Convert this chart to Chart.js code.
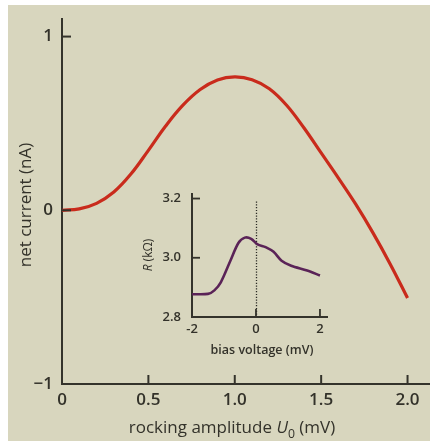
<!DOCTYPE html>
<html>
<head>
<meta charset="utf-8">
<script src="https://cdn.jsdelivr.net/npm/chart.js@4.4.1/dist/chart.umd.min.js"></script>
<style>
  html, body { margin: 0; padding: 0; background: #fff; }
  #wrap { position: relative; width: 430px; height: 441px; overflow: hidden; }
  #paper { position: absolute; left: 8px; top: 5px; right: 0; bottom: 0; background: #d8d6be; }
  #mainChart { position: absolute; left: 0; top: 0; }
  #insetChart { position: absolute; left: 120px; top: 175px; }
</style>
</head>
<body>
<div id="wrap">
  <div id="paper"></div>
  <canvas id="mainChart" width="430" height="441"></canvas>
  <canvas id="insetChart" width="230" height="190"></canvas>
</div>
<script>
// --- DATA ---
const amplitude  = [0, 0.1, 0.2, 0.3, 0.4, 0.5, 0.6, 0.7, 0.8, 0.9, 1.0, 1.1, 1.2, 1.3, 1.4, 1.5, 1.6, 1.7, 1.8, 1.9, 2.0];
const netCurrent = [0, 0.008, 0.04, 0.105, 0.21, 0.345, 0.485, 0.605, 0.695, 0.75, 0.768, 0.752, 0.70, 0.605, 0.475, 0.33, 0.185, 0.035, -0.13, -0.31, -0.505];
const ampTicks = [0, 0.5, 1, 1.5, 2];
const ampTickLabels = ['0', '0.5', '1.0', '1.5', '2.0'];
const currentTicks = [-1, 0, 1];
const currentTickLabels = ['\u22121', '0', '1'];

// inset: resistance vs bias voltage
const biasVoltage = [-2.0, -1.5, -1.3, -1.1, -0.8, -0.55, -0.35, -0.15, 0.05, 0.3, 0.55, 0.8, 1.1, 1.6, 2.0];
const resistance  = [2.877, 2.878, 2.89, 2.917, 2.99, 3.05, 3.068, 3.064, 3.045, 3.036, 3.02, 2.99, 2.973, 2.957, 2.94];
const biasTicks = [-2, 0, 2];
const biasTickLabels = ['-2', '0', '2'];
const resTicks = [2.8, 3.0, 3.2];
const resTickLabels = ['2.8', '3.0', '3.2'];

// --- STYLE ---
const FONT = '"Open Sans", "DejaVu Sans", sans-serif';
const axisColor = '#34332b';
const textColor = '#33322a';

// force the scale to use exactly these tick values
function fixedTicks(values) {
  return scale => { scale.ticks = values.map(v => ({ value: v })); };
}

// short tick marks pointing into the plot area
function drawInsideTicks(chart, xVals, yVals, len, width) {
  const { ctx, chartArea, scales: { x, y } } = chart;
  ctx.save();
  ctx.strokeStyle = axisColor;
  ctx.lineWidth = width;
  xVals.forEach(v => {
    if (v === x.min) return;
    const px = x.getPixelForValue(v);
    ctx.beginPath();
    ctx.moveTo(px, chartArea.bottom);
    ctx.lineTo(px, chartArea.bottom - len);
    ctx.stroke();
  });
  yVals.forEach(v => {
    if (v === y.min) return;
    const py = y.getPixelForValue(v);
    ctx.beginPath();
    ctx.moveTo(chartArea.left, py);
    ctx.lineTo(chartArea.left + len, py);
    ctx.stroke();
  });
  ctx.restore();
}

// text made of pieces (italic letters, subscripts), centred on cx
function drawRichText(ctx, parts, cx, cy, size, weight, rotate) {
  ctx.save();
  ctx.translate(cx, cy);
  if (rotate) ctx.rotate(-Math.PI / 2);
  ctx.fillStyle = textColor;
  ctx.textBaseline = 'alphabetic';
  const fontFor = p => `${p.italic ? 'italic ' : ''}${weight} ${p.sub ? size * 0.72 : size}px ${FONT}`;
  let total = 0;
  parts.forEach(p => { ctx.font = fontFor(p); total += ctx.measureText(p.text).width; });
  let x = -total / 2;
  parts.forEach(p => {
    ctx.font = fontFor(p);
    ctx.fillText(p.text, x, p.sub ? size * 0.3 : 0);
    x += ctx.measureText(p.text).width;
  });
  ctx.restore();
}

const mainDecor = {
  id: 'mainDecor',
  afterDraw(chart) {
    drawInsideTicks(chart, ampTicks, currentTicks, 9, 2);
    const ctx = chart.ctx;
    drawRichText(ctx, [
      { text: 'rocking amplitude ' }, { text: 'U', italic: true }, { text: '0', sub: true }, { text: ' (mV)' }
    ], 232, 433, 17, 500, false);
    drawRichText(ctx, [{ text: 'net current (nA)' }], 31, 205, 17, 500, true);
  }
};

const insetDecor = {
  id: 'insetDecor',
  beforeDatasetsDraw(chart) {
    // dotted line at zero bias
    const { ctx, chartArea, scales: { x, y } } = chart;
    const px = Math.round(x.getPixelForValue(0)) + 0.5;
    ctx.save();
    ctx.strokeStyle = '#2a2a24';
    ctx.lineWidth = 1.3;
    ctx.setLineDash([1.2, 1.6]);
    ctx.beginPath();
    ctx.moveTo(px, y.getPixelForValue(3.19));
    ctx.lineTo(px, chartArea.bottom);
    ctx.stroke();
    ctx.restore();
  },
  afterDraw(chart) {
    drawInsideTicks(chart, biasTicks, resTicks, 8, 1.8);
    const ctx = chart.ctx;
    drawRichText(ctx, [{ text: 'bias voltage (mV)' }], 142, 179, 12.5, 600, false);
    drawRichText(ctx, [{ text: 'R', italic: true }, { text: ' (k\u03A9)' }], 32, 80, 12, 400, true);
  }
};

new Chart(document.getElementById('mainChart'), {
  type: 'line',
  data: {
    datasets: [{
      data: amplitude.map((u, i) => ({ x: u, y: netCurrent[i] })),
      borderColor: '#c92b1c',
      borderWidth: 3.2,
      pointRadius: 0,
      tension: 0.4,
      fill: false
    }]
  },
  options: {
    responsive: false,
    animation: false,
    events: [],
    layout: { padding: { top: 13, right: 0, left: 0, bottom: 0 } },
    plugins: { legend: { display: false }, tooltip: { enabled: false } },
    scales: {
      x: {
        type: 'linear', min: 0, max: 2.13,
        afterBuildTicks: fixedTicks(ampTicks),
        afterFit: s => { s.height = 57; },
        grid: { display: false, drawTicks: false },
        border: { display: true, color: axisColor, width: 2 },
        ticks: {
          padding: 6, color: textColor, maxRotation: 0, autoSkip: false,
          font: { family: FONT, size: 17, weight: '600' },
          callback: (v, i) => ampTickLabels[i]
        }
      },
      y: {
        type: 'linear', min: -1, max: 1.1,
        afterBuildTicks: fixedTicks(currentTicks),
        afterFit: s => { s.width = 62; },
        grid: { display: false, drawTicks: false },
        border: { display: true, color: axisColor, width: 2 },
        ticks: {
          padding: 9, color: textColor, autoSkip: false,
          font: { family: FONT, size: 17, weight: '600' },
          callback: (v, i) => currentTickLabels[i]
        }
      }
    }
  },
  plugins: [mainDecor]
});

new Chart(document.getElementById('insetChart'), {
  type: 'line',
  data: {
    datasets: [{
      data: biasVoltage.map((v, i) => ({ x: v, y: resistance[i] })),
      borderColor: '#5a2357',
      borderWidth: 2.6,
      pointRadius: 0,
      tension: 0.3,
      fill: false
    }]
  },
  options: {
    responsive: false,
    animation: false,
    events: [],
    layout: { padding: { top: 10, right: 23, left: 0, bottom: 0 } },
    plugins: { legend: { display: false }, tooltip: { enabled: false } },
    scales: {
      x: {
        type: 'linear', min: -2, max: 2.22,
        afterBuildTicks: fixedTicks(biasTicks),
        afterFit: s => { s.height = 48; },
        grid: { display: false, drawTicks: false },
        border: { display: true, color: axisColor, width: 2 },
        ticks: {
          padding: 4, color: textColor, maxRotation: 0, autoSkip: false,
          font: { family: FONT, size: 13, weight: '600' },
          callback: (v, i) => biasTickLabels[i]
        }
      },
      y: {
        type: 'linear', min: 2.8, max: 3.216,
        afterBuildTicks: fixedTicks(resTicks),
        afterFit: s => { s.width = 72; },
        grid: { display: false, drawTicks: false },
        border: { display: true, color: axisColor, width: 2 },
        ticks: {
          padding: 11, color: textColor, autoSkip: false,
          font: { family: FONT, size: 13, weight: '600' },
          callback: (v, i) => resTickLabels[i]
        }
      }
    }
  },
  plugins: [insetDecor]
});
</script>
</body>
</html>
